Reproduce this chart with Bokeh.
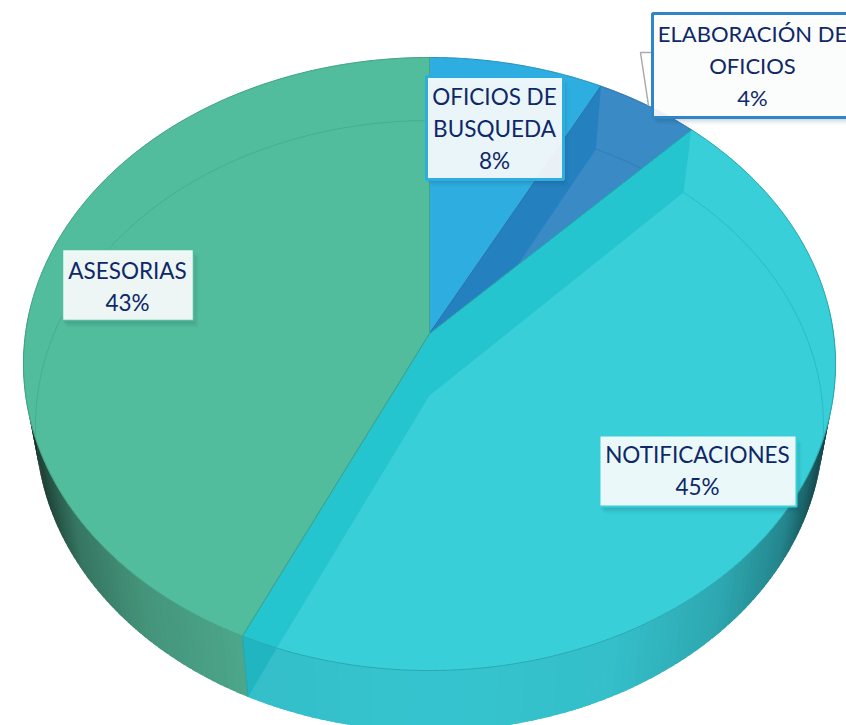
import numpy as np
from bokeh.plotting import figure
from bokeh.embed import file_html
from bokeh.resources import INLINE
from bokeh.core.properties import value

# ---- data -------------------------------------------------------------
slice_names = ["OFICIOS DE BUSQUEDA", "ELABORACIÓN DE OFICIOS", "NOTIFICACIONES", "ASESORIAS"]
slice_shares = [7.64, 4.58, 44.7, 43.08]      # widths
label_percent = ["8%", "4%", "45%", "43%"]
label_lines = [["OFICIOS DE", "BUSQUEDA"], ["ELABORACIÓN DE", "OFICIOS"], ["NOTIFICACIONES"], ["ASESORIAS"]]

# ---- style / layout ---------------------------------------------------
top_colors = ["#2eaee0", "#3a8ac5", "#38cfd8", "#52bd9c"]
band_colors = ["#2eaee0", "#2480bf", "#25c5cf", "#52bd9c"]
edge_colors = ["#2390bd", "#2d72a8", "#2ba7b0", "#45a287"]
side_colors = ["#2eaee0", "#3a8ac5", "#36c5d0", "#50ae90"]
box_borders = ["#2eaee0", "#2e86c8", "#38cfd8", "#52bd9c"]
box_widths = [3, 3, 2, 1.5]
box_left = [426, 652, 599, 62]
box_right = [563, 860, 796, 193]
box_top = [76, 13, 435, 249]
box_bottom = [179, 117, 506, 320]
box_center = [494, 752, 697, 127]
box_first_line = [96, 33, 454, 270]
box_font = ["22.5px", "22px", "22.5px", "22.5px"]
LINE_STEP = 32
TEXT_COLOR = "#0f2868"

CX, APEX_Y, INNER_APEX_Y = 429.0, 333.0, 395.0
K, TOP_RY, TOP_RX, IN_RX, IN_RY = 0.0996, 303.5, 404.0, 392.0, 302.3


def rim(theta):
    s, c = np.sin(theta), np.cos(theta)
    d = 1 + K * c
    return CX + TOP_RX * s / d, APEX_Y - TOP_RY * c / d


def low(theta):
    s, c = np.sin(theta), np.cos(theta)
    d = 1 + K * c
    return CX + IN_RX * s / d, INNER_APEX_Y - IN_RY * c / d


def inside_rim(x, y):
    return ((x - CX) / 406.0) ** 2 + ((y - 363.5) / 306.5) ** 2 < 1


def mix(col, f):
    r, g, b = int(col[1:3], 16), int(col[3:5], 16), int(col[5:7], 16)
    return "#%02x%02x%02x" % (int(r * f), int(g * f), int(b * f))


def cross(p1, p2, p3, p4):
    a = np.array([[p2[0] - p1[0], p3[0] - p4[0]], [p2[1] - p1[1], p3[1] - p4[1]]])
    t = np.linalg.solve(a, [p3[0] - p1[0], p3[1] - p1[1]])[0]
    return p1[0] + t * (p2[0] - p1[0]), p1[1] + t * (p2[1] - p1[1])


p = figure(width=846, height=725, x_range=(0, 846), y_range=(725, 0),
           x_axis_type=None, y_axis_type=None, toolbar_location=None,
           output_backend="svg", min_border=0, outline_line_color=None,
           background_fill_color="#ffffff", border_fill_color="#ffffff")
p.grid.visible = False

cum = np.cumsum([0] + slice_shares)
angles = cum / 100.0 * 2 * np.pi   # clockwise from twelve o'clock
a_bus, a_ela, a_not, a_end = angles[1], angles[2], angles[3], angles[4]
apex = (CX, APEX_Y)
in_apex = (CX, INNER_APEX_Y)


def arc(fn, a, b, n=120):
    th = np.linspace(a, b, n)
    return fn(th)


# ---- side wall, as narrow shaded strips that overlap slightly ---------
def side_strips(a, b, color, n):
    edges = np.linspace(a, b, n + 1)
    step = (b - a) / n
    xs, ys, cols = [], [], []
    for t0 in edges[:-1]:
        t1 = min(t0 + 1.8 * step, b)
        x0, y0 = rim(t0); x1, y1 = rim(t1)
        x2, y2 = low(t1); x3, y3 = low(t0)
        d = abs((x2 + x3) / 2 - CX) / 394.0
        f = np.interp(d, [0, 0.45, 0.72, 0.88, 0.96, 1.0], [1.0, 0.97, 0.85, 0.68, 0.42, 0.28])
        xs.append([x0, x1, x2, x3]); ys.append([y0, y1, y2, y3])
        cols.append(mix(color, f))
    p.patches(xs, ys, fill_color=cols, line_color=None)


side_strips(np.radians(85), a_not, side_colors[2], 110)
side_strips(a_not, np.radians(275), side_colors[3], 70)

# darker triangle on the wall, at the near cut
low_cut = low(a_not)
rim_cut = rim(a_not)
th = np.linspace(a_not - np.radians(12), a_not, 60)
rx, ry = rim(th)
on_rim = ((rx - CX) - (low_cut[0] - CX) * (ry - INNER_APEX_Y) / (low_cut[1] - INNER_APEX_Y))
i_cross = int(np.argmin(np.abs(on_rim)))
tri_x, tri_y = rx[i_cross:], ry[i_cross:]
p.patch(list(tri_x) + [low_cut[0]], list(tri_y) + [low_cut[1]], fill_color="#21b5c2", line_color=None)
p.line([rim_cut[0], low_cut[0]], [rim_cut[1], low_cut[1]], line_color="#2aa2ad", line_width=1)

# ---- top surface --------------------------------------------------------
bounds = [(angles[i], angles[i + 1]) for i in range(4)]
for (a, b), fill in zip(bounds, top_colors):
    x, y = arc(rim, a, b, 160)
    p.patch([CX] + list(x), [APEX_Y] + list(y), fill_color=fill, line_color=fill, line_width=0.5)

# darker facets beside the cuts
meet = cross(low(a_bus), in_apex, apex, rim(a_ela))
p.patch([CX, rim(a_bus)[0], low(a_bus)[0], meet[0]],
        [APEX_Y, rim(a_bus)[1], low(a_bus)[1], meet[1]],
        fill_color=band_colors[1], line_color=None)

rim_x, rim_y = arc(rim, th[i_cross], a_not, 30)
p.patch([CX, rim(a_ela)[0], low(a_ela)[0], CX] + list(rim_x),
        [APEX_Y, rim(a_ela)[1], low(a_ela)[1], INNER_APEX_Y] + list(rim_y),
        fill_color=band_colors[2], line_color=None)

# faint outline of the base seen through the top
for (a, b), col in [((a_bus, a_ela), "#2f7db8"), ((a_ela, a_not), "#2bbcc6"), ((a_not, 2 * np.pi), "#48ad8f")]:
    x, y = arc(low, a, b, 200)
    keep = inside_rim(x, y)
    if a == a_bus:
        m_line = (rim(a_ela)[1] - APEX_Y) / (rim(a_ela)[0] - CX)
        keep &= y < APEX_Y + m_line * (x - CX)
    p.line(x[keep], y[keep], line_color=col, line_width=1)

# cuts and rim lines
for (a, b), edge in zip(bounds, edge_colors):
    x, y = arc(rim, a, b, 160)
    p.line([CX] + list(x) + [CX], [APEX_Y] + list(y) + [APEX_Y], line_color=edge, line_width=1)

# ---- leader of the small slice -------------------------------------------
leader_x = [651, 640, 648]
leader_y = [52, 52, 105]
p.line(leader_x, leader_y, line_color="#ababab", line_width=1.5)

# ---- labels ---------------------------------------------------------------
for i in range(4):
    for off, alpha in [(7, 0.04), (5, 0.06), (3, 0.08)]:
        p.quad(left=box_left[i] + off - 2, right=box_right[i] + off - 2,
               top=box_top[i] + off, bottom=box_bottom[i] + off,
               fill_color="#10304a", fill_alpha=alpha, line_color=None)
    p.quad(left=box_left[i], right=box_right[i], top=box_top[i], bottom=box_bottom[i],
           fill_color="#ffffff", fill_alpha=0.9, line_color=box_borders[i], line_width=box_widths[i])
    rows = label_lines[i] + [label_percent[i]]
    ys = [box_first_line[i] + LINE_STEP * r for r in range(len(rows))]
    p.text(x=[box_center[i]] * len(rows), y=ys, text=rows, text_align="center",
           text_baseline="middle", text_font=value("Lato"), text_font_size=box_font[i],
           text_color=TEXT_COLOR)

open("out.html", "w").write(file_html(p, INLINE))
